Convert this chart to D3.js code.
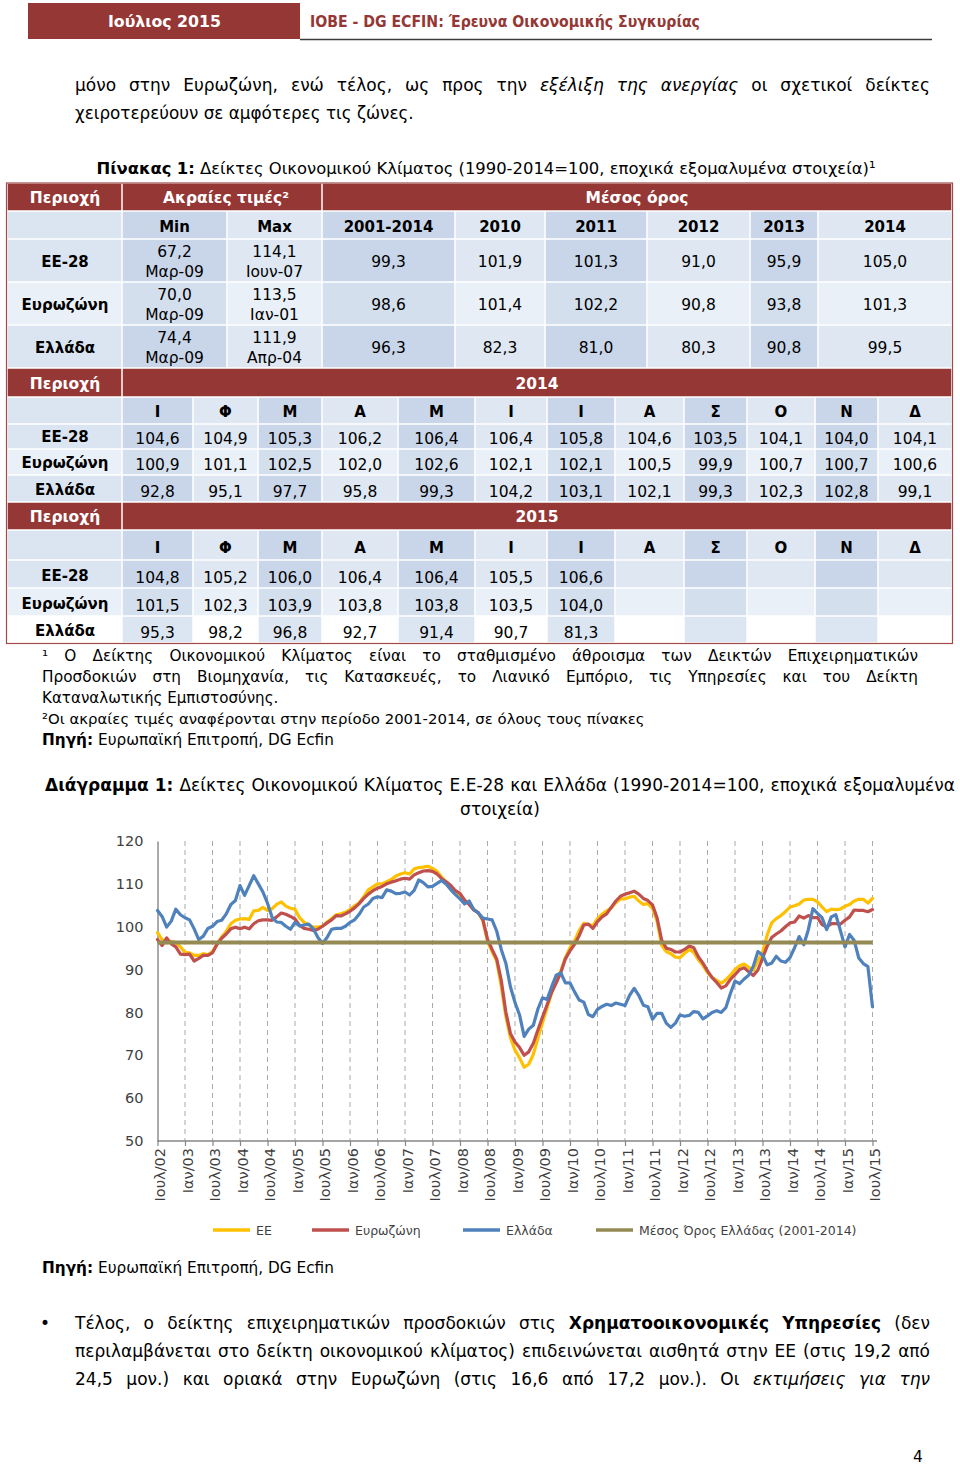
<!DOCTYPE html>
<html><head><meta charset="utf-8">
<script src="https://cdn.jsdelivr.net/npm/d3@7"></script>
<style>
html,body{margin:0;padding:0;background:#fff;}
svg{display:block;}
</style></head><body>
<svg id="page" width="960" height="1465"></svg>
<script>
// ---------------- DATA ----------------
const regions = ["ΕΕ-28", "Ευρωζώνη", "Ελλάδα"];
const extremeMin = [67.2, 70.0, 74.4];
const extremeMinDate = ["Μαρ-09", "Μαρ-09", "Μαρ-09"];
const extremeMax = [114.1, 113.5, 111.9];
const extremeMaxDate = ["Ιουν-07", "Ιαν-01", "Απρ-04"];
const avgPeriods = ["2001-2014", "2010", "2011", "2012", "2013", "2014"];
const avgEU = [99.3, 101.9, 101.3, 91.0, 95.9, 105.0];
const avgEZ = [98.6, 101.4, 102.2, 90.8, 93.8, 101.3];
const avgGR = [96.3, 82.3, 81.0, 80.3, 90.8, 99.5];
const monthLetters = ["Ι", "Φ", "Μ", "Α", "Μ", "Ι", "Ι", "Α", "Σ", "Ο", "Ν", "Δ"];
const eu2014 = [104.6, 104.9, 105.3, 106.2, 106.4, 106.4, 105.8, 104.6, 103.5, 104.1, 104.0, 104.1];
const ez2014 = [100.9, 101.1, 102.5, 102.0, 102.6, 102.1, 102.1, 100.5, 99.9, 100.7, 100.7, 100.6];
const gr2014 = [92.8, 95.1, 97.7, 95.8, 99.3, 104.2, 103.1, 102.1, 99.3, 102.3, 102.8, 99.1];
const eu2015 = [104.8, 105.2, 106.0, 106.4, 106.4, 105.5, 106.6];
const ez2015 = [101.5, 102.3, 103.9, 103.8, 103.8, 103.5, 104.0];
const gr2015 = [95.3, 98.2, 96.8, 92.7, 91.4, 90.7, 81.3];

// Chart monthly values, Jul 2002 - Dec 2013; 2014-2015 from the table
const euHist = [
  98.6, 97.0, 96.2, 96.6, 96.3, 95.3,
  94.0, 93.9, 93.3, 93.3, 93.7, 93.5, 94.2, 96.0, 97.6, 98.9, 100.7, 101.5,
  101.8, 101.9, 101.7, 103.7, 103.8, 104.5, 103.8, 104.2, 105.2, 105.8, 104.8, 104.3,
  104.1, 102.1, 101.0, 100.4, 99.9, 99.9, 100.1, 101.1, 101.9, 102.8, 103.0, 103.4,
  104.0, 104.9, 105.6, 107.0, 108.6, 109.3, 110.0, 110.0, 110.5, 111.0, 111.8, 112.3,
  112.6, 112.3, 113.5, 113.8, 113.9, 114.1, 113.6, 112.9, 111.6, 110.4, 109.4, 108.3,
  107.4, 106.2, 105.2, 104.1, 103.2, 101.4, 96.6, 94.2, 92.0, 86.1, 79.1, 74.1,
  71.2, 69.4, 67.2, 67.9, 70.2, 74.0, 77.6, 81.1, 84.6, 87.2, 89.7, 92.8,
  95.1, 96.7, 99.1, 100.8, 100.5, 100.2, 101.9, 102.9, 103.7, 104.4, 105.6, 106.5,
  106.5, 106.9, 107.1, 106.0, 105.2, 105.4, 104.3, 101.3, 95.6, 94.2, 93.7, 92.9,
  92.8, 93.8, 94.7, 94.0, 92.3, 91.0, 89.3, 88.2, 87.5, 86.8, 87.6, 88.7,
  90.0, 90.9, 91.3, 90.5, 89.8, 92.1, 93.9, 98.0, 100.9, 101.9, 102.6, 103.5
];
const ezHist = [
  97.0, 95.6, 97.4, 96.0, 95.3, 93.6,
  93.5, 93.6, 92.0, 92.6, 93.3, 93.3, 93.9, 95.9, 97.3, 98.3, 99.5, 99.9,
  99.5, 99.9, 99.5, 100.7, 101.4, 101.6, 101.6, 101.5, 102.3, 103.2, 102.9, 102.4,
  101.8, 100.3, 99.6, 99.4, 99.1, 99.4, 100.1, 100.9, 101.6, 102.6, 102.5, 103.0,
  103.6, 104.4, 105.4, 106.6, 107.6, 108.4, 109.0, 109.4, 110.0, 110.4, 110.7, 111.1,
  111.3, 111.1, 112.1, 112.6, 113.0, 113.1, 112.9, 112.3, 111.2, 110.5, 109.6, 108.4,
  107.8, 106.2, 105.2, 103.9, 103.3, 101.6, 97.1, 94.7, 92.5, 87.5, 80.1, 75.1,
  73.1, 71.8, 70.0, 70.8, 72.8, 75.9, 78.9, 81.8, 84.7, 86.9, 89.3, 92.5,
  94.4, 95.9, 97.9, 100.4, 100.6, 99.6, 101.2, 102.3, 103.0, 104.5, 106.0, 107.1,
  107.6, 107.9, 108.3, 107.6, 106.6, 106.1, 105.1, 102.1, 96.9, 95.0, 94.7, 94.1,
  94.1, 94.7, 95.5, 95.1, 93.0, 91.5, 89.7, 88.1, 87.0, 85.7, 86.2, 87.7,
  88.8, 90.0, 90.4, 89.5, 88.6, 89.9, 92.6, 95.4, 97.5, 98.3, 99.0, 100.0
];
const grHist = [
  103.8, 102.4, 99.9, 101.3, 104.1, 102.8,
  102.1, 101.6, 99.5, 97.0, 97.8, 99.6, 100.1, 101.2, 101.5, 103.0, 105.2, 106.1,
  109.6, 107.3, 109.6, 111.9, 110.0, 108.1, 105.5, 102.2, 101.1, 101.0, 100.1, 99.4,
  101.0, 100.2, 100.4, 100.6, 99.5, 97.5, 96.1, 97.5, 99.4, 99.6, 99.6, 100.1,
  101.0, 101.6, 102.9, 104.6, 105.3, 106.6, 107.0, 106.8, 108.6, 108.3, 107.7, 107.8,
  108.1, 107.4, 108.5, 110.9, 110.3, 109.3, 109.4, 110.1, 110.8, 109.9, 108.6, 107.5,
  106.5, 105.3, 106.0, 104.0, 103.2, 102.0, 101.8, 101.6, 99.0, 94.7, 91.5, 86.0,
  82.3, 79.4, 74.4, 76.1, 77.0, 80.8, 83.4, 83.0, 86.0, 88.7, 89.2, 86.9,
  86.9, 84.8, 82.9, 82.4, 79.5, 79.0, 80.7, 81.4, 81.9, 81.6, 82.2, 81.9,
  81.6, 84.0, 85.6, 84.0, 81.7, 81.3, 78.4, 79.8, 79.8, 77.5, 76.5, 77.5,
  79.4, 79.1, 79.3, 80.2, 80.0, 78.5, 79.2, 80.0, 80.4, 80.0, 81.1, 84.4,
  87.3, 86.7, 87.8, 88.7, 90.8, 94.2, 93.4, 91.1, 91.5, 93.1, 92.0, 91.7
];
const xTickLabels = ["Ιουλ/02","Ιαν/03","Ιουλ/03","Ιαν/04","Ιουλ/04","Ιαν/05","Ιουλ/05","Ιαν/06","Ιουλ/06",
  "Ιαν/07","Ιουλ/07","Ιαν/08","Ιουλ/08","Ιαν/09","Ιουλ/09","Ιαν/10","Ιουλ/10","Ιαν/11","Ιουλ/11",
  "Ιαν/12","Ιουλ/12","Ιαν/13","Ιουλ/13","Ιαν/14","Ιουλ/14","Ιαν/15","Ιουλ/15"];
const yTicks = [50, 60, 70, 80, 90, 100, 110, 120];
const legendLabels = ["ΕΕ", "Ευρωζώνη", "Ελλάδα", "Μέσος Όρος Ελλάδας (2001-2014)"];
const seriesColors = ["#FFC000", "#C0504D", "#4F81BD", "#948A54"];

// ---------------- HELPERS ----------------
const FONT = "'DejaVu Sans', Verdana, sans-serif";
const RED = "#953735";
const svg = d3.select("#page");
svg.append("rect").attr("width", 960).attr("height", 1465).attr("fill", "#fff");
const fmt = v => d3.format(".1f")(v).replace(".", ",");

function textLine(parent, o) {
  const words = [];
  o.runs.forEach(([t, st]) => t.split(" ").filter(w => w).forEach(w => words.push({ w, st: st || "" })));
  let size = o.size;
  const g = parent.append("text").attr("y", o.y).attr("font-family", FONT)
    .attr("font-size", size).attr("fill", o.fill || "#000");
  const sp = g.selectAll("tspan").data(words).join("tspan").text(d => d.w)
    .attr("font-weight", d => d.st.includes("b") ? "bold" : null)
    .attr("font-style", d => d.st.includes("i") ? "italic" : null);
  let widths = sp.nodes().map(n => n.getComputedTextLength());
  let total = d3.sum(widths);
  const n = words.length;
  if (o.align === "justify") {
    const avail = o.x1 - o.x0;
    const minNeeded = total + size * 0.2 * (n - 1);
    if (minNeeded > avail) {
      size = size * avail / minNeeded;
      g.attr("font-size", size);
      widths = sp.nodes().map(nd => nd.getComputedTextLength());
      total = d3.sum(widths);
    }
    const gap = n > 1 ? (avail - total) / (n - 1) : 0;
    let x = o.x0;
    sp.each(function (d, i) { d3.select(this).attr("x", x); x += widths[i] + gap; });
  } else {
    const space = size * 0.318;
    const full = total + space * (n - 1);
    let x = o.align === "center" ? o.cx - full / 2 : o.x0;
    sp.each(function (d, i) { d3.select(this).attr("x", x); x += widths[i] + space; });
  }
  return g;
}

// ---------------- PAGE HEADER ----------------
svg.append("rect").attr("x", 28).attr("y", 3).attr("width", 272).attr("height", 36).attr("fill", RED);
svg.append("text").attr("x", 108).attr("y", 27).attr("font-family", FONT).attr("font-weight", "bold")
  .attr("font-size", 16).attr("fill", "#fff").attr("textLength", 113).attr("lengthAdjust", "spacingAndGlyphs")
  .text("Ιούλιος 2015");
svg.append("text").attr("x", 310).attr("y", 27).attr("font-family", "'DejaVu Sans Condensed', " + FONT)
  .attr("font-weight", "bold").attr("font-size", 15.5).attr("fill", RED)
  .attr("textLength", 390).attr("lengthAdjust", "spacingAndGlyphs")
  .text("ΙΟΒΕ - DG ECFIN: Έρευνα Οικονομικής Συγκυρίας");
svg.append("line").attr("x1", 300).attr("x2", 932).attr("y1", 39.5).attr("y2", 39.5)
  .attr("stroke", "#3a3a3a").attr("stroke-width", 1.4);

// ---------------- TOP PARAGRAPH ----------------
textLine(svg, { x0: 75, x1: 930, y: 91, size: 17, align: "justify",
  runs: [["μόνο στην Ευρωζώνη, ενώ τέλος, ως προς την", ""], ["εξέλιξη της ανεργίας", "i"], ["οι σχετικοί δείκτες", ""]] });
textLine(svg, { x0: 75, y: 119, size: 16.8, align: "left",
  runs: [["χειροτερεύουν σε αμφότερες τις ζώνες.", ""]] });

// ---------------- TABLE ----------------
textLine(svg, { cx: 486, y: 174, size: 16.4, align: "center",
  runs: [["Πίνακας 1:", "b"], ["Δείκτες Οικονομικού Κλίματος (1990-2014=100, εποχικά εξομαλυμένα στοιχεία)¹", ""]] });

const T = svg.append("g");
const pal = {
  A: { label: "#dbe5f1", odd: "#c9d6ea", even: "#dee7f2" },
  B: { label: "#eaf0f7", odd: "#d4dfee", even: "#eaf0f7" },
  C: { label: "#ffffff", odd: "#dce6f2", even: "#ffffff" }
};
function rect(x0, x1, y0, y1, fill) {
  T.append("rect").attr("x", x0 + 0.75).attr("y", y0 + 0.75)
    .attr("width", x1 - x0 - 1.5).attr("height", y1 - y0 - 1.5).attr("fill", fill);
}
function txt(x, y, s, o = {}) {
  T.append("text").attr("x", x).attr("y", y).attr("text-anchor", "middle")
    .attr("font-family", FONT).attr("font-size", o.size || 15.5)
    .attr("font-weight", o.bold ? "bold" : null).attr("fill", o.fill || "#000").text(s);
}
const X0 = 7, XL = 122, X1 = 952;
function redRow(y0, y1, splits, labels) {
  const edges = [X0, ...splits, X1];
  for (let i = 0; i < edges.length - 1; i++) rect(edges[i], edges[i + 1], y0, y1, RED);
  labels.forEach(l => txt(l.cx, y1 - 8, l.t, { bold: true, fill: "#fff", size: 15.5 }));
}
function bandRow(y0, y1, edges, type) {
  const p = pal[type];
  rect(X0, XL, y0, y1, p.label);
  for (let i = 0; i < edges.length - 1; i++) rect(edges[i], edges[i + 1], y0, y1, i % 2 === 0 ? p.odd : p.even);
}

// Block 1
const topEdges = [122, 227, 322, 455, 545, 647, 750, 818, 952];
const topCenters = d3.range(topEdges.length - 1).map(i => (topEdges[i] + topEdges[i + 1]) / 2);
redRow(183, 211, [122, 322], [{ cx: 65, t: "Περιοχή" }, { cx: 226, t: "Ακραίες τιμές²" }, { cx: 637, t: "Μέσος όρος" }]);
bandRow(211, 239, topEdges, "A");
["Min", "Max", ...avgPeriods].forEach((s, i) => txt(topCenters[i], 232, s, { bold: true, size: 15 }));
const topRows = regions.map((r, i) => ({
  region: r, type: ["A", "B", "A"][i], y0: 239 + 43 * i,
  min: extremeMin[i], minD: extremeMinDate[i], max: extremeMax[i], maxD: extremeMaxDate[i],
  avgs: [avgEU, avgEZ, avgGR][i]
}));
topRows.forEach(r => {
  bandRow(r.y0, r.y0 + 43, topEdges, r.type);
  txt(65, r.y0 + 28, r.region, { bold: true, size: 15 });
  txt(topCenters[0], r.y0 + 18, fmt(r.min));
  txt(topCenters[0], r.y0 + 38, r.minD);
  txt(topCenters[1], r.y0 + 18, fmt(r.max));
  txt(topCenters[1], r.y0 + 38, r.maxD);
  r.avgs.forEach((v, j) => txt(topCenters[j + 2], r.y0 + 28, fmt(v)));
});

// Blocks 2 & 3 (monthly)
const mEdges = [122, 193, 258, 322, 398, 475, 547, 615, 684, 747, 815, 878, 952];
const mCenters = d3.range(12).map(i => (mEdges[i] + mEdges[i + 1]) / 2);
const blocks = [
  { year: "2014", y: [368, 397, 424, 449, 475, 502], data: [eu2014, ez2014, gr2014], types: ["A", "B", "A"] },
  { year: "2015", y: [502, 530, 560, 588, 616, 643], data: [eu2015, ez2015, gr2015], types: ["A", "B", "C"] }
];
blocks.forEach(b => {
  redRow(b.y[0], b.y[1], [122], [{ cx: 65, t: "Περιοχή" }, { cx: 537, t: b.year }]);
  bandRow(b.y[1], b.y[2], mEdges, "A");
  monthLetters.forEach((m, i) => txt(mCenters[i], b.y[2] - 7, m, { bold: true, size: 15 }));
  regions.forEach((r, k) => {
    const y0 = b.y[2 + k], y1 = b.y[3 + k];
    bandRow(y0, y1, mEdges, b.types[k]);
    txt(65, y1 - 7, r, { bold: true, size: 15 });
    b.data[k].forEach((v, i) => txt(mCenters[i], y1 - 5, fmt(v)));
  });
});
T.append("rect").attr("x", 6.5).attr("y", 183).attr("width", 946).attr("height", 460.5)
  .attr("fill", "none").attr("stroke", "#a24a48").attr("stroke-width", 1.2);

// ---------------- FOOTNOTES ----------------
textLine(svg, { x0: 42, x1: 918, y: 661, size: 15.3, align: "justify",
  runs: [["¹ Ο Δείκτης Οικονομικού Κλίματος είναι το σταθμισμένο άθροισμα των Δεικτών Επιχειρηματικών", ""]] });
textLine(svg, { x0: 42, x1: 918, y: 682, size: 15.3, align: "justify",
  runs: [["Προσδοκιών στη Βιομηχανία, τις Κατασκευές, το Λιανικό Εμπόριο, τις Υπηρεσίες και του Δείκτη", ""]] });
textLine(svg, { x0: 42, y: 703, size: 15.1, align: "left", runs: [["Καταναλωτικής Εμπιστοσύνης.", ""]] });
textLine(svg, { x0: 42, y: 724, size: 14.9, align: "left",
  runs: [["²Οι ακραίες τιμές αναφέρονται στην περίοδο 2001-2014, σε όλους τους πίνακες", ""]] });
textLine(svg, { x0: 42, y: 745, size: 15.3, align: "left", runs: [["Πηγή:", "b"], ["Ευρωπαϊκή Επιτροπή, DG Ecfin", ""]] });

// ---------------- CHART TITLE ----------------
textLine(svg, { x0: 45, x1: 955, y: 791, size: 17, align: "justify",
  runs: [["Διάγραμμα 1:", "b"], ["Δείκτες Οικονομικού Κλίματος Ε.Ε-28 και Ελλάδα (1990-2014=100, εποχικά εξομαλυμένα", ""]] });
textLine(svg, { cx: 500, y: 815, size: 17, align: "center", runs: [["στοιχεία)", ""]] });

// ---------------- CHART ----------------
const chart = svg.append("g");
const nMonths = euHist.length + eu2014.length + eu2015.length; // Jul 2002 .. Jul 2015
const x = d3.scaleLinear().domain([0, nMonths - 1]).range([157.5, 872.5]);
const y = d3.scaleLinear().domain([50, 120]).range([1141, 841]);
const tickIdx = xTickLabels.map((_, i) => i * 6);

chart.selectAll("line.grid").data(tickIdx.slice(1)).join("line").attr("class", "grid")
  .attr("x1", d => x(d)).attr("x2", d => x(d)).attr("y1", y(120)).attr("y2", y(50))
  .attr("stroke", "#a9a9a9").attr("stroke-width", 1).attr("stroke-dasharray", "5,4");

const gy = chart.append("g").attr("transform", `translate(${x(0)},0)`)
  .call(d3.axisLeft(y).tickValues(yTicks).tickSize(0).tickSizeOuter(0).tickPadding(14));
gy.attr("font-family", FONT).attr("font-size", 14.5);
gy.select(".domain").attr("stroke", "#868686").attr("stroke-width", 1.4);
gy.selectAll(".tick text").attr("fill", "#3f3f3f");

const gx = chart.append("g").attr("transform", `translate(0,${y(50)})`)
  .call(d3.axisBottom(x).tickValues(tickIdx).tickFormat((d, i) => xTickLabels[i]).tickSize(5).tickSizeOuter(0));
gx.attr("font-family", FONT).attr("font-size", 14.5);
gx.select(".domain").remove();
gx.selectAll(".tick line").attr("stroke", "#868686").attr("stroke-width", 1.2);
gx.selectAll(".tick text").attr("fill", "#3f3f3f").attr("transform", "rotate(-90)")
  .attr("text-anchor", "end").attr("x", -7).attr("y", 2).attr("dy", "0.35em");
chart.append("line").attr("x1", x(0)).attr("x2", 877).attr("y1", y(50)).attr("y2", y(50))
  .attr("stroke", "#868686").attr("stroke-width", 1.4);

const series = [
  { name: legendLabels[0], color: seriesColors[0], values: euHist.concat(eu2014, eu2015) },
  { name: legendLabels[1], color: seriesColors[1], values: ezHist.concat(ez2014, ez2015) },
  { name: legendLabels[2], color: seriesColors[2], values: grHist.concat(gr2014, gr2015) }
];
const line = d3.line().x((d, i) => x(i)).y(d => y(d));
chart.selectAll("path.series").data(series).join("path").attr("class", "series")
  .attr("d", d => line(d.values)).attr("fill", "none").attr("stroke", d => d.color)
  .attr("stroke-width", 3.2).attr("stroke-linejoin", "round").attr("stroke-linecap", "round");
const greeceAvg = avgGR[0];
chart.append("path").datum([greeceAvg, greeceAvg]).attr("fill", "none")
  .attr("d", d3.line().x((d, i) => x(i * (nMonths - 1))).y(d => y(d)))
  .attr("stroke", seriesColors[3]).attr("stroke-width", 4);

// Legend
const legX = [213, 312, 463, 596];
const leg = chart.selectAll("g.leg").data(legendLabels).join("g").attr("class", "leg")
  .attr("transform", (d, i) => `translate(${legX[i]},1230)`);
leg.append("line").attr("x1", 0).attr("x2", 37).attr("stroke", (d, i) => seriesColors[i]).attr("stroke-width", 3.5);
leg.append("text").attr("x", 43).attr("y", 5).attr("font-family", FONT).attr("font-size", 12.5)
  .attr("fill", "#3f3f3f").text(d => d);

textLine(svg, { x0: 42, y: 1273, size: 15.3, align: "left", runs: [["Πηγή:", "b"], ["Ευρωπαϊκή Επιτροπή, DG Ecfin", ""]] });

// ---------------- BOTTOM PARAGRAPH ----------------
svg.append("text").attr("x", 40).attr("y", 1329).attr("font-family", FONT).attr("font-size", 17).text("•");
textLine(svg, { x0: 75, x1: 930, y: 1329, size: 17, align: "justify",
  runs: [["Τέλος, ο δείκτης επιχειρηματικών προσδοκιών στις", ""], ["Χρηματοοικονομικές Υπηρεσίες", "b"], ["(δεν", ""]] });
textLine(svg, { x0: 75, x1: 930, y: 1357, size: 17, align: "justify",
  runs: [["περιλαμβάνεται στο δείκτη οικονομικού κλίματος) επιδεινώνεται αισθητά στην ΕΕ (στις 19,2 από", ""]] });
textLine(svg, { x0: 75, x1: 930, y: 1385, size: 17, align: "justify",
  runs: [["24,5 μον.) και οριακά στην Ευρωζώνη (στις 16,6 από 17,2 μον.). Οι", ""], ["εκτιμήσεις για την", "i"]] });
svg.append("text").attr("x", 913).attr("y", 1462).attr("font-family", FONT).attr("font-size", 15.5).text("4");
</script>
</body></html>
